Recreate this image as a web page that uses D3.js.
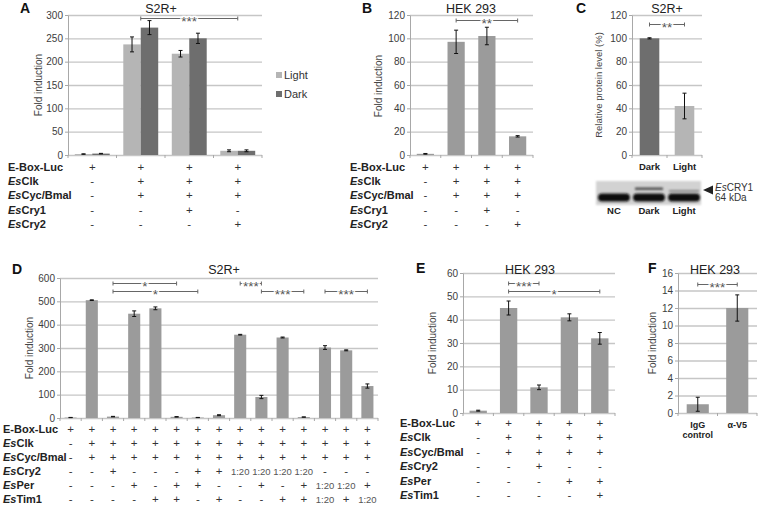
<!DOCTYPE html>
<html><head><meta charset="utf-8">
<script src="https://cdn.jsdelivr.net/npm/d3@7"></script>
<style>body{margin:0;background:#fff} svg{display:block}</style>
</head><body><svg id="c" width="760" height="507"></svg>
<script>
// ---------------- DATA ----------------
// Panel A (S2R+), grouped Light / Dark
const aSeries = ["Light", "Dark"];
const aLight = [2, 237, 217, 9];
const aLightErr = [0.5, 16, 7, 2];
const aDark = [3, 273, 250, 9];
const aDarkErr = [0.5, 15, 11, 2];
const aTicks = [0, 50, 100, 150, 200, 250, 300];
const abRows = ["E-Box-Luc", "EsClk", "EsCyc/Bmal", "EsCry1", "EsCry2"];
const aMarks = [["+","+","+","+"],["-","+","+","+"],["-","+","+","+"],["-","-","+","-"],["-","-","-","+"]];
const aSig = [{from: 1, to: 3, level: 293, label: "***"}];

// Panel B (HEK 293)
const bValues = [1, 97, 102, 16];
const bErr = [0.3, 10, 7.5, 0.6];
const bTicks = [0, 20, 40, 60, 80, 100, 120];
const bMarks = [["+","+","+","+"],["-","+","+","+"],["-","+","+","+"],["-","-","+","-"],["-","-","-","+"]];
const bSig = [{from: 1, to: 3, level: 115.5, label: "**"}];

// Panel C (S2R+ protein level)
const cCategories = ["Dark", "Light"];
const cValues = [100, 42];
const cErr = [0.5, 11];
const cTicks = [0, 20, 40, 60, 80, 100, 120];
const cSig = [{from: 0, to: 1, level: 112, label: "**"}];
const cLanes = ["NC", "Dark", "Light"];

// Panel D (S2R+)
const dValues = [2, 505, 6, 447, 470, 5, 2, 12, 357, 90, 345, 4, 302, 290, 137];
const dErr = [0.5, 1.5, 1, 12, 6, 1, 0.5, 2, 1.5, 7, 2, 0.5, 8, 2, 9];
const dTicks = [0, 100, 200, 300, 400, 500, 600];
const dRows = ["E-Box-Luc", "EsClk", "EsCyc/Bmal", "EsCry2", "EsPer", "EsTim1"];
const dMarks = [
  ["+","+","+","+","+","+","+","+","+","+","+","+","+","+","+"],
  ["-","+","+","+","+","+","+","+","+","+","+","+","+","+","+"],
  ["-","+","+","+","+","+","+","+","+","+","+","+","+","+","+"],
  ["-","-","+","-","-","-","+","+","1:20","1:20","1:20","1:20","-","-","-"],
  ["-","-","-","+","-","+","+","-","-","+","-","+","1:20","1:20","+"],
  ["-","-","-","-","+","+","-","+","-","-","+","+","1:20","+","1:20"]
];
const dSig = [
  {from: 2, to: 5, level: 579, label: "*"},
  {from: 2, to: 6, level: 544, label: "*"},
  {from: 8, to: 9, level: 579, label: "***"},
  {from: 9, to: 11, level: 544, label: "***"},
  {from: 12, to: 14, level: 544, label: "***"}
];

// Panel E (HEK 293)
const eValues = [1, 45, 11, 41, 32];
const eErr = [0.2, 3, 1, 1.5, 2.5];
const eTicks = [0, 10, 20, 30, 40, 50, 60];
const eRows = ["E-Box-Luc", "EsClk", "EsCyc/Bmal", "EsCry2", "EsPer", "EsTim1"];
const eMarks = [
  ["+","+","+","+","+"],
  ["-","+","+","+","+"],
  ["-","+","+","+","+"],
  ["-","-","+","-","-"],
  ["-","-","-","+","+"],
  ["-","-","-","-","+"]
];
const eSig = [
  {from: 1, to: 2, level: 55.7, label: "***"},
  {from: 1, to: 4, level: 52.3, label: "*"}
];

// Panel F (HEK 293)
const fCategories = [["IgG", "control"], ["α-V5"]];
const fValues = [1, 12];
const fErr = [0.8, 1.5];
const fTicks = [0, 2, 4, 6, 8, 10, 12, 14, 16];
const fSig = [{from: 0, to: 1, level: 14.7, label: "***"}];

// ---------------- DRAWING ----------------
const FONT = "Arial, 'Liberation Sans', Helvetica, sans-serif";
const GRID = "#c6c6c6", AXIS = "#a8a8a8", TXT = "#3c3c3c";
const MID = "#9b9b9b", LIGHT = "#b5b5b5", DARK = "#6e6e6e";
const svg = d3.select("#c").attr("font-family", FONT);

function frame(o) {
  const g = svg.append("g");
  const y = d3.scaleLinear().domain([0, o.max]).range([o.yBot, o.yTop]);
  const x = d3.scaleBand().domain(d3.range(o.n)).range([o.x0, o.x1])
    .paddingInner(o.pad).paddingOuter(o.pad / 2);
  g.append("g").attr("transform", `translate(${o.x0},0)`)
    .call(d3.axisLeft(y).tickValues(o.ticks).tickSize(-(o.x1 - o.x0)).tickFormat(""))
    .call(s => { s.select(".domain").remove(); s.selectAll("line").attr("stroke", GRID).attr("stroke-width", 1.3); });
  g.append("g").attr("transform", `translate(${o.x0},0)`)
    .call(d3.axisLeft(y).tickValues(o.ticks).tickSize(3).tickSizeOuter(0).tickPadding(2))
    .call(s => {
      s.select(".domain").attr("stroke", AXIS);
      s.selectAll("line").attr("stroke", AXIS);
      s.selectAll("text").attr("fill", TXT).attr("font-size", 10).attr("font-family", FONT);
    });
  g.append("g").selectAll("line").data(d3.range(o.n + 1)).join("line")
    .attr("x1", i => o.x0 + i * x.step()).attr("x2", i => o.x0 + i * x.step())
    .attr("y1", o.yBot).attr("y2", o.yBot + 3).attr("stroke", AXIS);
  g.append("text").attr("transform", `translate(${o.lx},${o.ly}) rotate(-90)`)
    .attr("text-anchor", "middle").attr("dy", "0.35em")
    .attr("font-size", o.lsize || 10).attr("fill", "#454545").text(o.label);
  return {g, x, y, o};
}

function bars(P, vals, errs, colors) {
  const {g, x, y} = P;
  g.append("g").selectAll("rect").data(vals).join("rect")
    .attr("x", (d, i) => x(i)).attr("width", x.bandwidth())
    .attr("y", d => y(d)).attr("height", d => y(0) - y(d))
    .attr("fill", (d, i) => Array.isArray(colors) ? colors[i] : colors);
  errorBars(g, vals.map((d, i) => x(i) + x.bandwidth() / 2), vals, errs, y);
}

function errorBars(g, xs, vals, errs, y) {
  const eg = g.append("g").attr("stroke", "#111").attr("stroke-width", 1);
  vals.forEach((v, i) => {
    const cx = xs[i], y1 = y(v - errs[i]), y2 = y(v + errs[i]);
    eg.append("line").attr("x1", cx).attr("x2", cx).attr("y1", y1).attr("y2", y2);
    eg.append("line").attr("x1", cx - 2).attr("x2", cx + 2).attr("y1", y1).attr("y2", y1);
    eg.append("line").attr("x1", cx - 2).attr("x2", cx + 2).attr("y1", y2).attr("y2", y2);
  });
}

function sig(P, list) {
  const {g, x, y} = P;
  const c = i => x(i) + x.bandwidth() / 2;
  list.forEach(s => {
    const yy = Math.round(y(s.level)) + 0.5, a = c(s.from), b = c(s.to);
    const sg = g.append("g").attr("stroke", "#666").attr("stroke-width", 1);
    sg.append("line").attr("x1", a).attr("x2", b).attr("y1", yy).attr("y2", yy);
    sg.append("line").attr("x1", a).attr("x2", a).attr("y1", yy - 2).attr("y2", yy + 2);
    sg.append("line").attr("x1", b).attr("x2", b).attr("y1", yy - 2).attr("y2", yy + 2);
    g.append("text").attr("x", (a + b) / 2).attr("y", yy + 7.5).attr("text-anchor", "middle")
      .attr("font-size", 13.5).attr("fill", "#555")
      .attr("stroke", "#fff").attr("stroke-width", 2.5).attr("paint-order", "stroke")
      .text(s.label);
  });
}

function rowLabel(sel, name) {
  if (name.startsWith("Es")) {
    sel.append("tspan").attr("font-style", "italic").text("Es");
    sel.append("tspan").text(name.slice(2));
  } else sel.text(name);
}

function table(P, rows, marks, lx, y0, step, size) {
  const {x} = P;
  const tg = svg.append("g");
  rows.forEach((r, ri) => {
    const t = tg.append("text").attr("x", lx).attr("y", y0 + ri * step)
      .attr("font-size", size || 11).attr("font-weight", "bold").attr("fill", "#222");
    rowLabel(t, r);
    marks[ri].forEach((m, ci) => {
      const ratio = m.length > 1;
      tg.append("text").attr("x", x(ci) + x.bandwidth() / 2).attr("y", y0 + ri * step)
        .attr("text-anchor", "middle").attr("font-size", ratio ? 9.5 : 11.5)
        .attr("fill", ratio ? "#555" : "#333").text(m);
    });
  });
}

function title(x, yb, t) {
  svg.append("text").attr("x", x).attr("y", yb).attr("text-anchor", "middle")
    .attr("font-size", 12.5).attr("fill", "#222").text(t);
}
function panelLabel(x, yb, t) {
  svg.append("text").attr("x", x).attr("y", yb).attr("font-size", 14)
    .attr("font-weight", "bold").attr("fill", "#111").text(t);
}

// ----- Panel A -----
const PA = frame({x0: 68, x1: 262, yTop: 15, yBot: 155, max: 300, ticks: aTicks, n: aLight.length, pad: 0.28,
  lx: 38, ly: 85, label: "Fold induction"});
{
  const inner = d3.scaleBand().domain(aSeries).range([0, PA.x.bandwidth()]);
  const seriesVals = {Light: aLight, Dark: aDark};
  const seriesErr = {Light: aLightErr, Dark: aDarkErr};
  const seriesCol = {Light: LIGHT, Dark: DARK};
  aSeries.forEach(s => {
    PA.g.append("g").selectAll("rect").data(seriesVals[s]).join("rect")
      .attr("x", (d, i) => PA.x(i) + inner(s)).attr("width", inner.bandwidth())
      .attr("y", d => PA.y(d)).attr("height", d => PA.y(0) - PA.y(d)).attr("fill", seriesCol[s]);
  });
  aSeries.forEach(s => {
    errorBars(PA.g, seriesVals[s].map((d, i) => PA.x(i) + inner(s) + inner.bandwidth() / 2), seriesVals[s], seriesErr[s], PA.y);
  });
  aSeries.forEach((s, i) => {
    svg.append("rect").attr("x", 276).attr("y", 72 + i * 19).attr("width", 6).attr("height", 6).attr("fill", seriesCol[s]);
    svg.append("text").attr("x", 284).attr("y", 79 + i * 19).attr("font-size", 11).attr("fill", "#333").text(s);
  });
}
sig(PA, aSig);
table(PA, abRows, aMarks, 8, 171, 14.2);
title(161, 13, "S2R+");
panelLabel(20, 13, "A");

// ----- Panel B -----
const PB = frame({x0: 410, x1: 533, yTop: 15, yBot: 155, max: 120, ticks: bTicks, n: bValues.length, pad: 0.44,
  lx: 378, ly: 86, label: "Fold induction"});
bars(PB, bValues, bErr, MID);
sig(PB, bSig);
table(PB, abRows, bMarks, 350, 171, 14.2);
title(471, 13, "HEK 293");
panelLabel(362, 13, "B");

// ----- Panel C -----
const PC = frame({x0: 632, x1: 702, yTop: 15, yBot: 155, max: 120, ticks: cTicks, n: cValues.length, pad: 0.44,
  lx: 599, ly: 85, label: "Relative protein level (%)", lsize: 9.5});
bars(PC, cValues, cErr, [DARK, LIGHT]);
sig(PC, cSig);
cCategories.forEach((c, i) => {
  svg.append("text").attr("x", PC.x(i) + PC.x.bandwidth() / 2).attr("y", 170).attr("text-anchor", "middle")
    .attr("font-size", 9.5).attr("font-weight", "bold").attr("fill", "#222").text(c);
});
title(667, 13, "S2R+");
panelLabel(576, 13, "C");
// western blot image (illustration)
{
  const defs = svg.append("defs");
  defs.append("filter").attr("id", "bl").attr("x", "-10%").attr("y", "-30%").attr("width", "120%").attr("height", "160%")
    .append("feGaussianBlur").attr("stdDeviation", 1.2);
  defs.append("filter").attr("id", "bl2").attr("x", "-20%").attr("y", "-80%").attr("width", "140%").attr("height", "260%")
    .append("feGaussianBlur").attr("stdDeviation", 1.1);
  const wb = svg.append("g");
  wb.append("rect").attr("x", 596).attr("y", 181).attr("width", 105).attr("height", 24).attr("fill", "#d2d2d2").attr("filter", "url(#bl)");
  const laneX = d3.scaleBand().domain(cLanes).range([597, 701]).paddingInner(0.03);
  cLanes.forEach((l, i) => {
    wb.append("rect").attr("x", laneX(l) + 1).attr("y", 193.5).attr("width", laneX.bandwidth() - 2).attr("height", 8)
      .attr("rx", 4).attr("fill", "#101010").attr("filter", "url(#bl2)");
    svg.append("text").attr("x", laneX(l) + laneX.bandwidth() / 2).attr("y", 214).attr("text-anchor", "middle")
      .attr("font-size", 9.5).attr("font-weight", "bold").attr("fill", "#222").text(l);
  });
  wb.append("rect").attr("x", laneX("Dark") + 3).attr("y", 187.5).attr("width", laneX.bandwidth() - 6).attr("height", 2.5)
    .attr("fill", "#505050").attr("filter", "url(#bl2)");
  wb.append("rect").attr("x", laneX("Light") + 2).attr("y", 190).attr("width", laneX.bandwidth() - 4).attr("height", 2)
    .attr("fill", "#8a8a8a").attr("filter", "url(#bl2)");
  svg.append("path").attr("d", "M703,190 L713,185.5 L713,194.5 Z").attr("fill", "#222");
  const t1 = svg.append("text").attr("x", 715).attr("y", 191).attr("font-size", 10).attr("fill", "#333");
  t1.append("tspan").attr("font-style", "italic").text("Es");
  t1.append("tspan").text("CRY1");
  svg.append("text").attr("x", 715).attr("y", 201).attr("font-size", 10).attr("fill", "#333").text("64 kDa");
}

// ----- Panel D -----
const PD = frame({x0: 60, x1: 378, yTop: 278, yBot: 418, max: 600, ticks: dTicks, n: dValues.length, pad: 0.43,
  lx: 29, ly: 348, label: "Fold induction"});
bars(PD, dValues, dErr, MID);
sig(PD, dSig);
table(PD, dRows, dMarks, 3, 433, 14);
title(224, 274, "S2R+");
panelLabel(12, 274, "D");

// ----- Panel E -----
const PE = frame({x0: 463, x1: 615, yTop: 273, yBot: 413, max: 60, ticks: eTicks, n: eValues.length, pad: 0.43,
  lx: 432, ly: 343, label: "Fold induction"});
bars(PE, eValues, eErr, MID);
sig(PE, eSig);
table(PE, eRows, eMarks, 400, 427, 14.4);
title(530, 274, "HEK 293");
panelLabel(416, 273, "E");

// ----- Panel F -----
const PF = frame({x0: 678, x1: 757, yTop: 273, yBot: 413, max: 16, ticks: fTicks, n: fValues.length, pad: 0.44,
  lx: 652, ly: 343, label: "Fold induction"});
bars(PF, fValues, fErr, MID);
sig(PF, fSig);
fCategories.forEach((lines, i) => {
  lines.forEach((ln, j) => {
    svg.append("text").attr("x", PF.x(i) + PF.x.bandwidth() / 2).attr("y", 428 + j * 10).attr("text-anchor", "middle")
      .attr("font-size", 9).attr("font-weight", "bold").attr("fill", "#222").text(ln);
  });
});
title(715, 274, "HEK 293");
panelLabel(648, 273, "F");
</script></body></html>
